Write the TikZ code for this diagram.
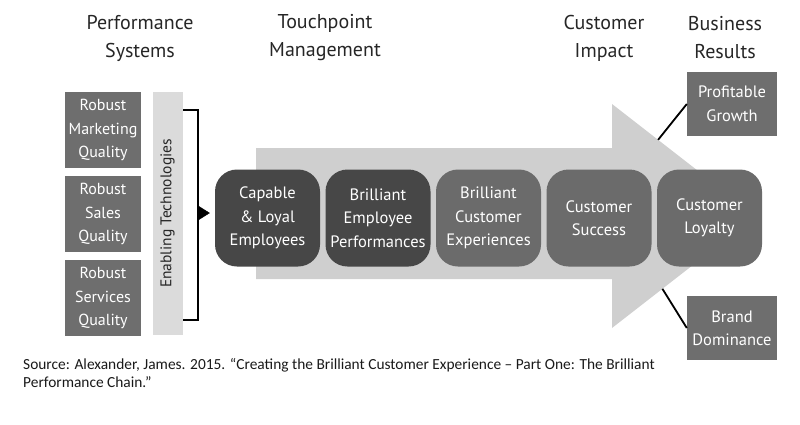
\documentclass[tikz,border=0pt]{standalone}
\usepackage{fontspec}
\setmainfont{PT Sans}
\newfontfamily\srcfont{Carlito}
\usetikzlibrary{arrows.meta,calc}
\begin{document}
\begin{tikzpicture}[x=1pt,y=-1pt,
  head/.style={
    align=center, text=black!85, inner sep=0pt,
    font=\fontsize{20}{28}\selectfont
  },
  sysbox/.style={
    fill=Cbox, text=white, minimum width=76pt, minimum height=76pt,
    inner sep=0pt, align=center, font=\fontsize{16}{23.5}\selectfont
  },
  stage/.style={
    fill=Cstage, text=white, rounded corners=22pt,
    minimum width=105pt, minimum height=97pt,
    inner sep=0pt, align=center, font=\fontsize{16.5}{23.5}\selectfont
  },
  result/.style={
    fill=Cbox, text=white, minimum width=90pt, minimum height=64pt,
    inner sep=0pt, align=center, font=\fontsize{16.5}{23.5}\selectfont
  },
  link/.style={draw=black, line width=1.8pt}
]
\colorlet{Cbox}{black!57}
\colorlet{Cstage}{black!58}
\colorlet{Cdark}{black!72}
\colorlet{Carrow}{black!19}
\colorlet{Cbar}{black!14}
\def\sx{103}
\def\dx{110.5}
\def\sty{218}
\useasboundingbox (0,0) rectangle (800,424);
%% HEADINGS
\node[head] (hSys)    at (140,38) {Performance\\Systems};
\node[head] (hTouch)  at (325,38) {Touchpoint\\Management};
\node[head] (hImpact) at (604,38) {Customer\\Impact};
\node[head] (hResult) at (725,38) {Business\\Results};
%% BIG ARROW
\coordinate (headTop) at (612,104);
\coordinate (tip)     at (756,216);
\coordinate (headBot) at (612,328);
\fill[Carrow] (256,148) -- (612,148) -- (headTop) -- (tip) -- (headBot)
  -- (612,279) -- (256,279) -- cycle;
%% PERFORMANCE SYSTEMS
\node[sysbox] (mkt) at (\sx,130) {Robust\\Marketing\\Quality};
\node[sysbox] (sal) at (\sx,214) {Robust\\Sales\\Quality};
\node[sysbox] (srv) at (\sx,298) {Robust\\Services\\Quality};
\node[fill=Cbar, rotate=90, minimum width=243pt, minimum height=30pt,
  inner sep=0pt, text=black!85, font=\fontsize{15.5}{18}\selectfont]
  (tech) at (167.5,213.5) {Enabling Technologies};
%% BRACKET
\coordinate (brkTop) at (183,110);
\coordinate (brkBot) at (183,320);
\coordinate (brkMid) at (198,213);
\draw[link] (brkTop) -- ++(15,0) |- (brkBot);
%% STAGES
\node[stage,fill=Cdark] (capable) at (215+52.5+0*\dx,\sty) {Capable\\\& Loyal\\Employees};
\node[stage,fill=Cdark] (perf)    at (215+52.5+1*\dx,\sty) {Brilliant\\Employee\\Performances};
\node[stage]            (exper)   at (215+52.5+2*\dx,\sty) {Brilliant\\Customer\\Experiences};
\node[stage]            (success) at (215+52.5+3*\dx,\sty) {Customer\\Success};
\node[stage]            (loyalty) at (215+52.5+4*\dx,\sty) {Customer\\Loyalty};
\draw[-{Triangle[length=12pt,width=15pt]}, shorten >=5pt]
  (brkMid) -- (brkMid -| capable.west);
%% BUSINESS RESULTS
\node[result] (growth) at (732,104) {Profitable\\Growth};
\node[result] (brand)  at (732,328) {Brand\\Dominance};
\coordinate (upEdge)  at ($(headTop)!0.32!(tip)$);
\coordinate (lowEdge) at ($(headBot)!0.35!(tip)$);
\draw[link] (upEdge)  -- (growth.west);
\draw[link] (lowEdge) -- (brand.west);
%% SOURCE
\node[anchor=north west, align=left, inner sep=0pt, text=black!90,
  font=\srcfont\fontsize{15.4}{18.5}\selectfont] (source) at (23,358)
  {Source: Alexander, James. 2015. “Creating the Brilliant Customer Experience – Part One: The Brilliant\\Performance Chain.”};
\end{tikzpicture}
\end{document}
